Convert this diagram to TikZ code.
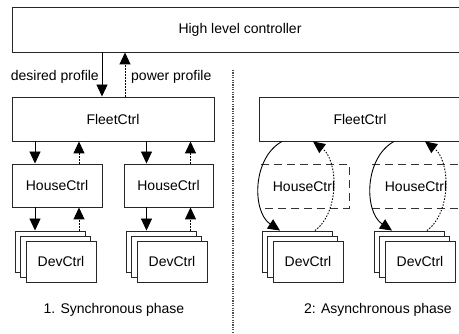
\documentclass[tikz,border=0pt]{standalone}
\usepackage{fontspec}
\setmainfont{Liberation Sans}
\usetikzlibrary{arrows.meta}
\tikzset{
  box/.style={draw=black!85, line width=0.9pt, fill=white, inner sep=0pt, font=\fontsize{14}{16}\selectfont},
  dbox/.style={draw=black!80, line width=0.9pt, dash pattern=on 8pt off 5pt},
  lbl/.style={inner sep=0pt, font=\fontsize{14}{16}\selectfont},
  arr/.style={line width=0.9pt, -{Triangle[width=11pt,length=12pt]}},
  darr/.style={line width=0.9pt, dash pattern=on 1.5pt off 1.5pt, -{Triangle[width=11pt,length=12pt]}},
  sep/.style={draw=black!70, line width=1.4pt, dash pattern=on 1.2pt off 1.2pt},
}
\begin{document}
\begin{tikzpicture}[x=1pt,y=-1pt]
\useasboundingbox (0,0) rectangle (459,334);
\clip (0,0) rectangle (459,334);
% top controller
\node[box, minimum width=456pt, minimum height=45pt] (high) at (240,29.5) {High level controller};
% fleet controllers
\node[box, minimum width=202pt, minimum height=44pt] (fleetL) at (113,119) {FleetCtrl};
\node[box, minimum width=202pt, minimum height=44pt] (fleetR) at (360,119) {FleetCtrl};
% house controllers (synchronous)
\node[box, minimum width=90pt, minimum height=43pt] (houseL1) at (57,185.5) {HouseCtrl};
\node[box, minimum width=89pt, minimum height=43pt] (houseL2) at (168.5,185.5) {HouseCtrl};
% device controller stacks
\foreach \n/\cx in {a/61, b/172, c/308, d/420}{
  \node[box, minimum width=70pt, minimum height=41pt] (dev\n3) at (\cx-11,251.5) {};
  \node[box, minimum width=70pt, minimum height=41pt] (dev\n2) at (\cx-5.5,256.5) {};
  \node[box, minimum width=70pt, minimum height=41pt] (dev\n1) at (\cx,261.5) {DevCtrl};
}
% labels
\node[lbl, anchor=east] (dp) at (99,77) {desired profile};
\node[lbl, anchor=west] (pp) at (131,77) {power profile};
\node[lbl] (cap1) at (114,310) {1. Synchronous phase};
\node[lbl] (cap2) at (378,310) {2: Asynchronous phase};
% separator
\coordinate (s1) at (233,70);
\coordinate (s2) at (233,334);
\draw[sep] (s1) -- (s2);
% high <-> fleet
\draw[arr] (high.south -| 102,0) -- (fleetL.north -| 102,0);
\draw[darr] (fleetL.north -| 125,0) -- (high.south -| 125,0);
% fleet <-> house, house <-> dev (synchronous)
\foreach \h/\d in {houseL1/a, houseL2/b}{
  \draw[arr] ([xshift=-22pt]\h.north |- fleetL.south) -- ([xshift=-22pt]\h.north);
  \draw[darr] ([xshift=22pt]\h.north) -- ([xshift=22pt]\h.north |- fleetL.south);
  \draw[arr] ([xshift=-22pt]\h.south) -- ([xshift=-22pt]\h.south |- dev\d3.north);
  \draw[darr] ([xshift=22pt]\h.south |- dev\d3.north) -- ([xshift=22pt]\h.south);
}
% asynchronous house controllers (dashed)
\draw[dbox] (261,164) -- (349,164) -- (349,208) -- (261,208);
\draw[dbox] (372,164) -- (462,164) (372,208) -- (462,208);
\node[lbl] (houseR1) at (304,186) {HouseCtrl};
\node[lbl] (houseR2) at (416,186) {HouseCtrl};
% asynchronous loops
\foreach \o/\d in {0/c, 112/d}{
  \draw[arr] (fleetR.south -| 282+\o,0) .. controls (252+\o,158) and (252+\o,212) .. (dev\d3.north -| 280+\o,0);
  \draw[darr] (dev\d3.north -| 315+\o,0) .. controls (340+\o,212) and (338+\o,160) .. (fleetR.south -| 313+\o,0);
}
\end{tikzpicture}
\end{document}
